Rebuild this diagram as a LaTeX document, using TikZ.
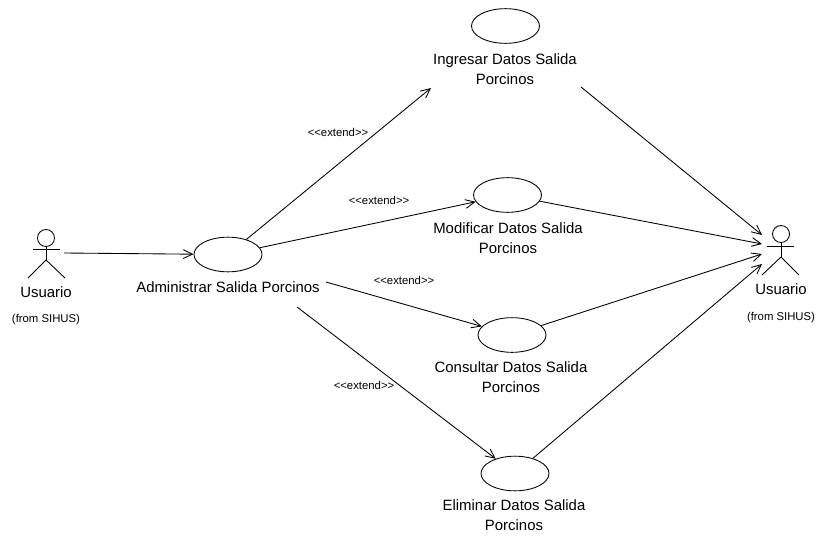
\documentclass[tikz,border=0pt]{standalone}
\usepackage{fontspec}
\setmainfont{Liberation Sans}
\usetikzlibrary{arrows.meta,shapes.geometric}
\tikzset{
  usecase/.style={draw,ellipse,minimum width=51pt,minimum height=26pt,inner sep=0pt},
  lbl/.style={font=\fontsize{11.2}{15}\selectfont,align=center,inner sep=0pt},
  small/.style={font=\fontsize{8.5}{10}\selectfont,inner sep=0pt},
  head/.style={draw,circle,minimum size=12.75pt,inner sep=0pt},
  open/.style={-{Straight Barb[length=7pt,width=10pt,angle'=50]}}
}
\begin{document}
\begin{tikzpicture}[x=0.75pt,y=-0.75pt,line width=0.65pt]
      \useasboundingbox (0,0) rectangle (816,535);
      % use cases
      \draw
        (228,254.5) node[usecase] (adm){}
        (505.5,26) node[usecase] (ing){}
        (507.5,195) node[usecase] (mod){}
        (512,335) node[usecase] (con){}
        (515,473.5) node[usecase] (eli){};
      \draw
        (228,287) node[lbl] (admtxt){Administrar Salida Porcinos}
        (505,69) node[lbl] (ingtxt){Ingresar Datos Salida\\Porcinos}
        (508,238) node[lbl] (modtxt){Modificar Datos Salida\\Porcinos}
        (511,377.5) node[lbl] (contxt){Consultar Datos Salida\\Porcinos}
        (514,515) node[lbl] (elitxt){Eliminar Datos Salida\\Porcinos};
      % left actor
      \node[head] (lhead) at (46,238) {};
      \coordinate (lhip) at (46,260);
      \coordinate (larml) at (33,249);
      \coordinate (larmr) at (60,249);
      \coordinate (llegl) at (28,278);
      \coordinate (llegr) at (65,278);
      \coordinate (lout) at (64,253);
      \draw (lhead) -- (lhip);
      \draw (larml) -- (larmr);
      \draw (llegl) -- (lhip) -- (llegr);
      \node[lbl] (ltxt) at (46,292) {Usuario};
      \node[small] (lfrom) at (46,320) {(from SIHUS)};
      % right actor
      \node[head] (rhead) at (781,234) {};
      \coordinate (rhip) at (781,257);
      \coordinate (rarml) at (767,246);
      \coordinate (rarmr) at (794,246);
      \coordinate (rlegl) at (762,275);
      \coordinate (rlegr) at (799,275);
      \draw (rhead) -- (rhip);
      \draw (rarml) -- (rarmr);
      \draw (rlegl) -- (rhip) -- (rlegr);
      \node[lbl] (rtxt) at (781,289) {Usuario};
      \node[small] (rfrom) at (781,318) {(from SIHUS)};
      % arrow ends
      \coordinate (admc) at (326,282);
      \coordinate (admd) at (297,307);
      \coordinate (ra) at (762,235);
      \coordinate (rb) at (762,244);
      \coordinate (rc) at (762,254);
      \coordinate (rd) at (762,264);
      \coordinate (inge) at (431,88);
      \coordinate (ingf) at (581,87);
      \begin{scope}[open]
        \draw (lout) to (adm);
        \draw (adm) to (inge);
        \draw (adm) to (mod);
        \draw (admc) to (con);
        \draw (admd) to (eli);
        \draw (ingf) to (ra);
        \draw (mod) to (rb);
        \draw (con) to (rc);
        \draw (eli) to (rd);
      \end{scope}
      % stereotypes
      \node[small] (ext1) at (338,132) {<{}<extend>{}>};
      \node[small] (ext2) at (379,200) {<{}<extend>{}>};
      \node[small] (ext3) at (404,280) {<{}<extend>{}>};
      \node[small] (ext4) at (364,385) {<{}<extend>{}>};
    \end{tikzpicture}
\end{document}
